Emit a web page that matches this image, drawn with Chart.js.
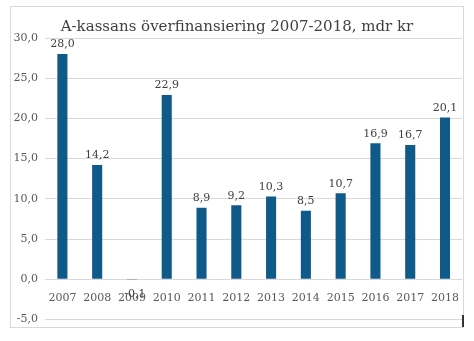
<!DOCTYPE html>
<html>
<head>
<meta charset="utf-8">
<script src="https://cdn.jsdelivr.net/npm/chart.js@4/dist/chart.umd.min.js"></script>
<style>
  body { margin: 0; background: #fff; }
  #box {
    position: absolute; left: 10px; top: 6px;
    width: 452px; height: 320px;
    border: 1px solid #d9d9d9;
  }
  #wrap {
    position: absolute; left: 11px; top: 7px;
    width: 452px; height: 326px;
  }
  #mark {
    position: absolute; left: 462px; top: 315px;
    width: 2px; height: 12px; background: #333;
  }
</style>
</head>
<body>
<div id="box"></div>
<div id="wrap"><canvas id="chart"></canvas></div>
<div id="mark"></div>
<script>
const years = ['2007', '2008', '2009', '2010', '2011', '2012', '2013', '2014', '2015', '2016', '2017', '2018'];
const surplus = [28.0, 14.2, -0.1, 22.9, 8.9, 9.2, 10.3, 8.5, 10.7, 16.9, 16.7, 20.1];
const titleText = 'A-kassans överfinansiering 2007-2018, mdr kr';

const serif = '"DejaVu Serif", "Liberation Serif", serif';
const fmt = v => v.toFixed(1).replace('.', ',');

// value labels above (or below) each bar
const valueLabels = {
    id: 'valueLabels',
    afterDatasetsDraw(chart) {
        const ctx = chart.ctx;
        const meta = chart.getDatasetMeta(0);
        ctx.save();
        ctx.font = '11px ' + serif;
        ctx.fillStyle = '#404040';
        ctx.textAlign = 'center';
        meta.data.forEach((bar, i) => {
            const v = surplus[i];
            if (v >= 0) {
                ctx.textBaseline = 'bottom';
                ctx.fillText(fmt(v), bar.x, bar.y - 4);
            } else {
                ctx.textBaseline = 'top';
                ctx.fillText(fmt(v), bar.x + 3, bar.y + 9);
            }
        });
        ctx.restore();
    }
};

new Chart(document.getElementById('chart'), {
    type: 'bar',
    data: {
        labels: years,
        datasets: [{
            data: surplus,
            backgroundColor: '#105a8a',
            barPercentage: 0.29,
            categoryPercentage: 1.0
        }]
    },
    options: {
        responsive: true,
        maintainAspectRatio: false,
        animation: false,
        layout: { padding: { left: 0, right: 0, top: 0, bottom: 0 } },
        scales: {
            x: {
                position: { y: 0 },
                grid: { display: false },
                border: { display: false },
                ticks: {
                    color: '#595959',
                    font: { family: serif, size: 11 },
                    padding: 4,
                    maxRotation: 0
                }
            },
            y: {
                min: -5,
                max: 30,
                border: { display: false },
                grid: { color: '#d9d9d9', drawTicks: false },
                afterFit: s => { s.width = 34; },
                ticks: {
                    stepSize: 5,
                    color: '#595959',
                    font: { family: serif, size: 11 },
                    padding: 7,
                    callback: v => fmt(v)
                }
            }
        },
        plugins: {
            legend: { display: false },
            tooltip: { enabled: false },
            title: {
                display: true,
                text: titleText,
                color: '#404040',
                font: { family: serif, size: 15, weight: 'normal' },
                padding: { top: 11, bottom: 2 }
            }
        }
    },
    plugins: [valueLabels]
});
</script>
</body>
</html>
